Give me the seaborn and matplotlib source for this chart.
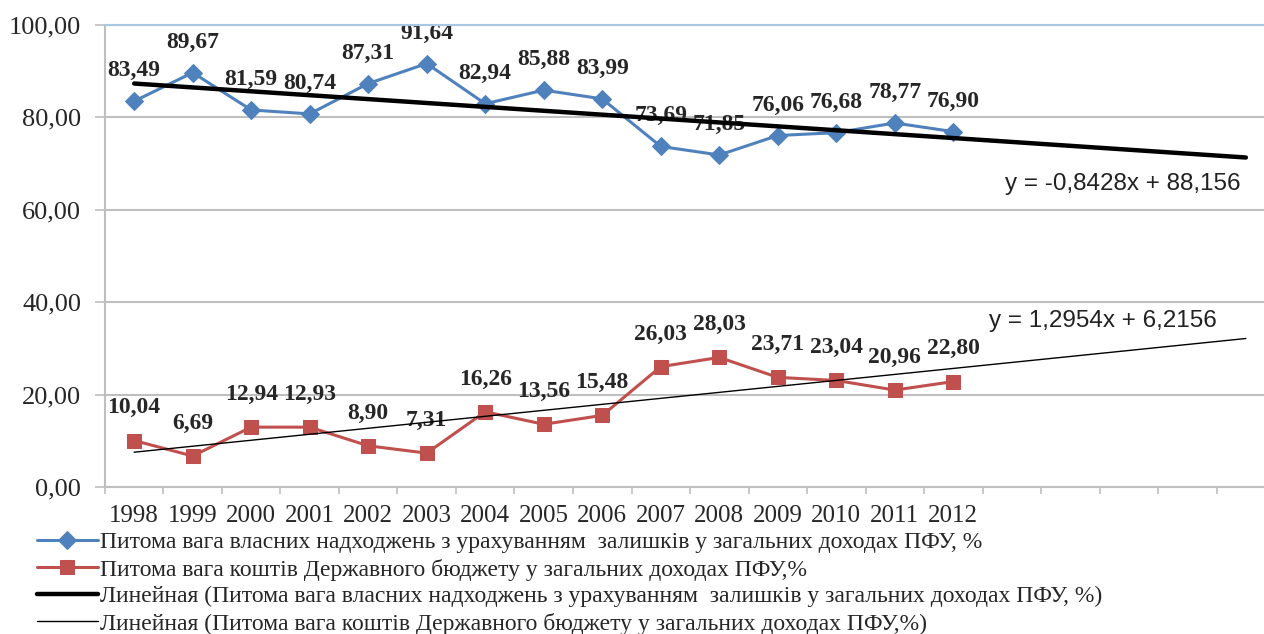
import numpy as np
import pandas as pd
import matplotlib
matplotlib.use("Agg")
import matplotlib.pyplot as plt
import seaborn as sns
from matplotlib.ticker import FixedLocator, FuncFormatter, NullFormatter

# ── Data ─────────────────────────────────────────────────────
years = list(range(1998, 2013))
n_periods = 20  # trend lines run 5 periods past 2012

own_share = [83.49, 89.67, 81.59, 80.74, 87.31, 91.64, 82.94, 85.88,
             83.99, 73.69, 71.85, 76.06, 76.68, 78.77, 76.90]
budget_share = [10.04, 6.69, 12.94, 12.93, 8.90, 7.31, 16.26, 13.56,
                15.48, 26.03, 28.03, 23.71, 23.04, 20.96, 22.80]

# trend equations as printed on the chart (x = 1, 2, ...)
own_trend = (-0.8428, 88.156)
budget_trend = (1.2954, 6.2156)

label_own = "Питома вага власних надходжень з урахуванням  залишків у загальних доходах ПФУ, %"
label_budget = "Питома вага коштів Державного бюджету у загальних доходах ПФУ,%"
label_own_trend = "Линейная (Питома вага власних надходжень з урахуванням  залишків у загальних доходах ПФУ, %)"
label_budget_trend = "Линейная (Питома вага коштів Державного бюджету у загальних доходах ПФУ,%)"

df = pd.DataFrame({"idx": np.arange(len(years)), "own": own_share, "budget": budget_share})
trend_x = np.arange(n_periods)
own_line = own_trend[0] * (trend_x + 1) + own_trend[1]
budget_line = budget_trend[0] * (trend_x + 1) + budget_trend[1]


def comma(v, decimals=2):
    return f"{v:.{decimals}f}".replace(".", ",")


# ── Style ────────────────────────────────────────────────────
sns.set_style("white")
plt.rcParams["font.family"] = ["Liberation Serif", "DejaVu Serif"]

blue = "#4F81BD"
red = "#C0504D"
grid_gray = "#BFBFBF"

fig = plt.figure(figsize=(12.64, 6.34), dpi=100)
ax = fig.add_axes([0.083, 0.232, 0.917, 0.7287])

# ── Series ───────────────────────────────────────────────────
sns.lineplot(data=df, x="idx", y="own", ax=ax, color=blue, lw=2.2,
             marker="D", markersize=9.5, markeredgecolor=blue, label=label_own, zorder=3)
sns.lineplot(data=df, x="idx", y="budget", ax=ax, color=red, lw=2.2,
             marker="s", markersize=10, markeredgecolor=red, label=label_budget, zorder=3)
sns.lineplot(x=trend_x, y=own_line, ax=ax, color="black", lw=3.2,
             label=label_own_trend, zorder=4)
sns.lineplot(x=trend_x, y=budget_line, ax=ax, color="black", lw=1,
             label=label_budget_trend, zorder=4)

# data labels
for i, v in enumerate(own_share):
    ax.annotate(comma(v), (i, v), xytext=(0, 22), textcoords="offset points",
                ha="center", va="center", fontsize=17, fontweight="bold", zorder=2)
for i, v in enumerate(budget_share):
    ax.annotate(comma(v), (i, v), xytext=(0, 23.5), textcoords="offset points",
                ha="center", va="center", fontsize=17, fontweight="bold", zorder=2)

# trend equations
eq_font = ["Liberation Sans", "DejaVu Sans"]
ax.text(16.9, 65.6, f"y = {comma(own_trend[0], 4)}x + {comma(own_trend[1], 3)}",
        ha="center", va="center", fontsize=17.5, family=eq_font, color="#222222")
ax.text(16.55, 35.9, f"y = {comma(budget_trend[0], 4)}x + {comma(budget_trend[1], 4)}",
        ha="center", va="center", fontsize=17.5, family=eq_font, color="#222222")

# ── Axes ─────────────────────────────────────────────────────
ax.set_ylim(0, 100)
ax.set_xlim(-0.5, 19.31)
ax.set_xlabel("")
ax.set_ylabel("")

ax.yaxis.set_major_locator(FixedLocator([0, 20, 40, 60, 80, 100]))
ax.yaxis.set_major_formatter(FuncFormatter(lambda v, _: comma(v)))
ax.yaxis.grid(True, color=grid_gray, lw=1.5)
ax.tick_params(axis="y", length=7, width=1.2, color=grid_gray, labelsize=19, pad=10, left=True)

ax.xaxis.set_major_locator(FixedLocator(list(range(len(years)))))
ax.set_xticklabels([str(y) for y in years])
ax.xaxis.set_minor_locator(FixedLocator(np.arange(-0.5, n_periods, 1.0)))
ax.xaxis.set_minor_formatter(NullFormatter())
ax.tick_params(axis="x", which="major", length=0, labelsize=18, pad=13)
ax.tick_params(axis="x", which="minor", length=5, width=1.2, color=grid_gray, bottom=True)

for side in ["left", "bottom"]:
    ax.spines[side].set_color(grid_gray)
    ax.spines[side].set_linewidth(1.5)
ax.spines["right"].set_visible(False)
ax.spines["top"].set_color("#A9C6E3")
ax.spines["top"].set_linewidth(1.5)

# ── Legend ───────────────────────────────────────────────────
handles, labels = ax.get_legend_handles_labels()
ax.get_legend().remove()
fig.legend(handles, labels, loc="upper left", bbox_to_anchor=(0.029, 0.161),
           frameon=False, fontsize=17, handlelength=2.6, handletextpad=0.1,
           labelspacing=0.22, borderpad=0, borderaxespad=0)

fig.savefig("out.png", dpi=100)
